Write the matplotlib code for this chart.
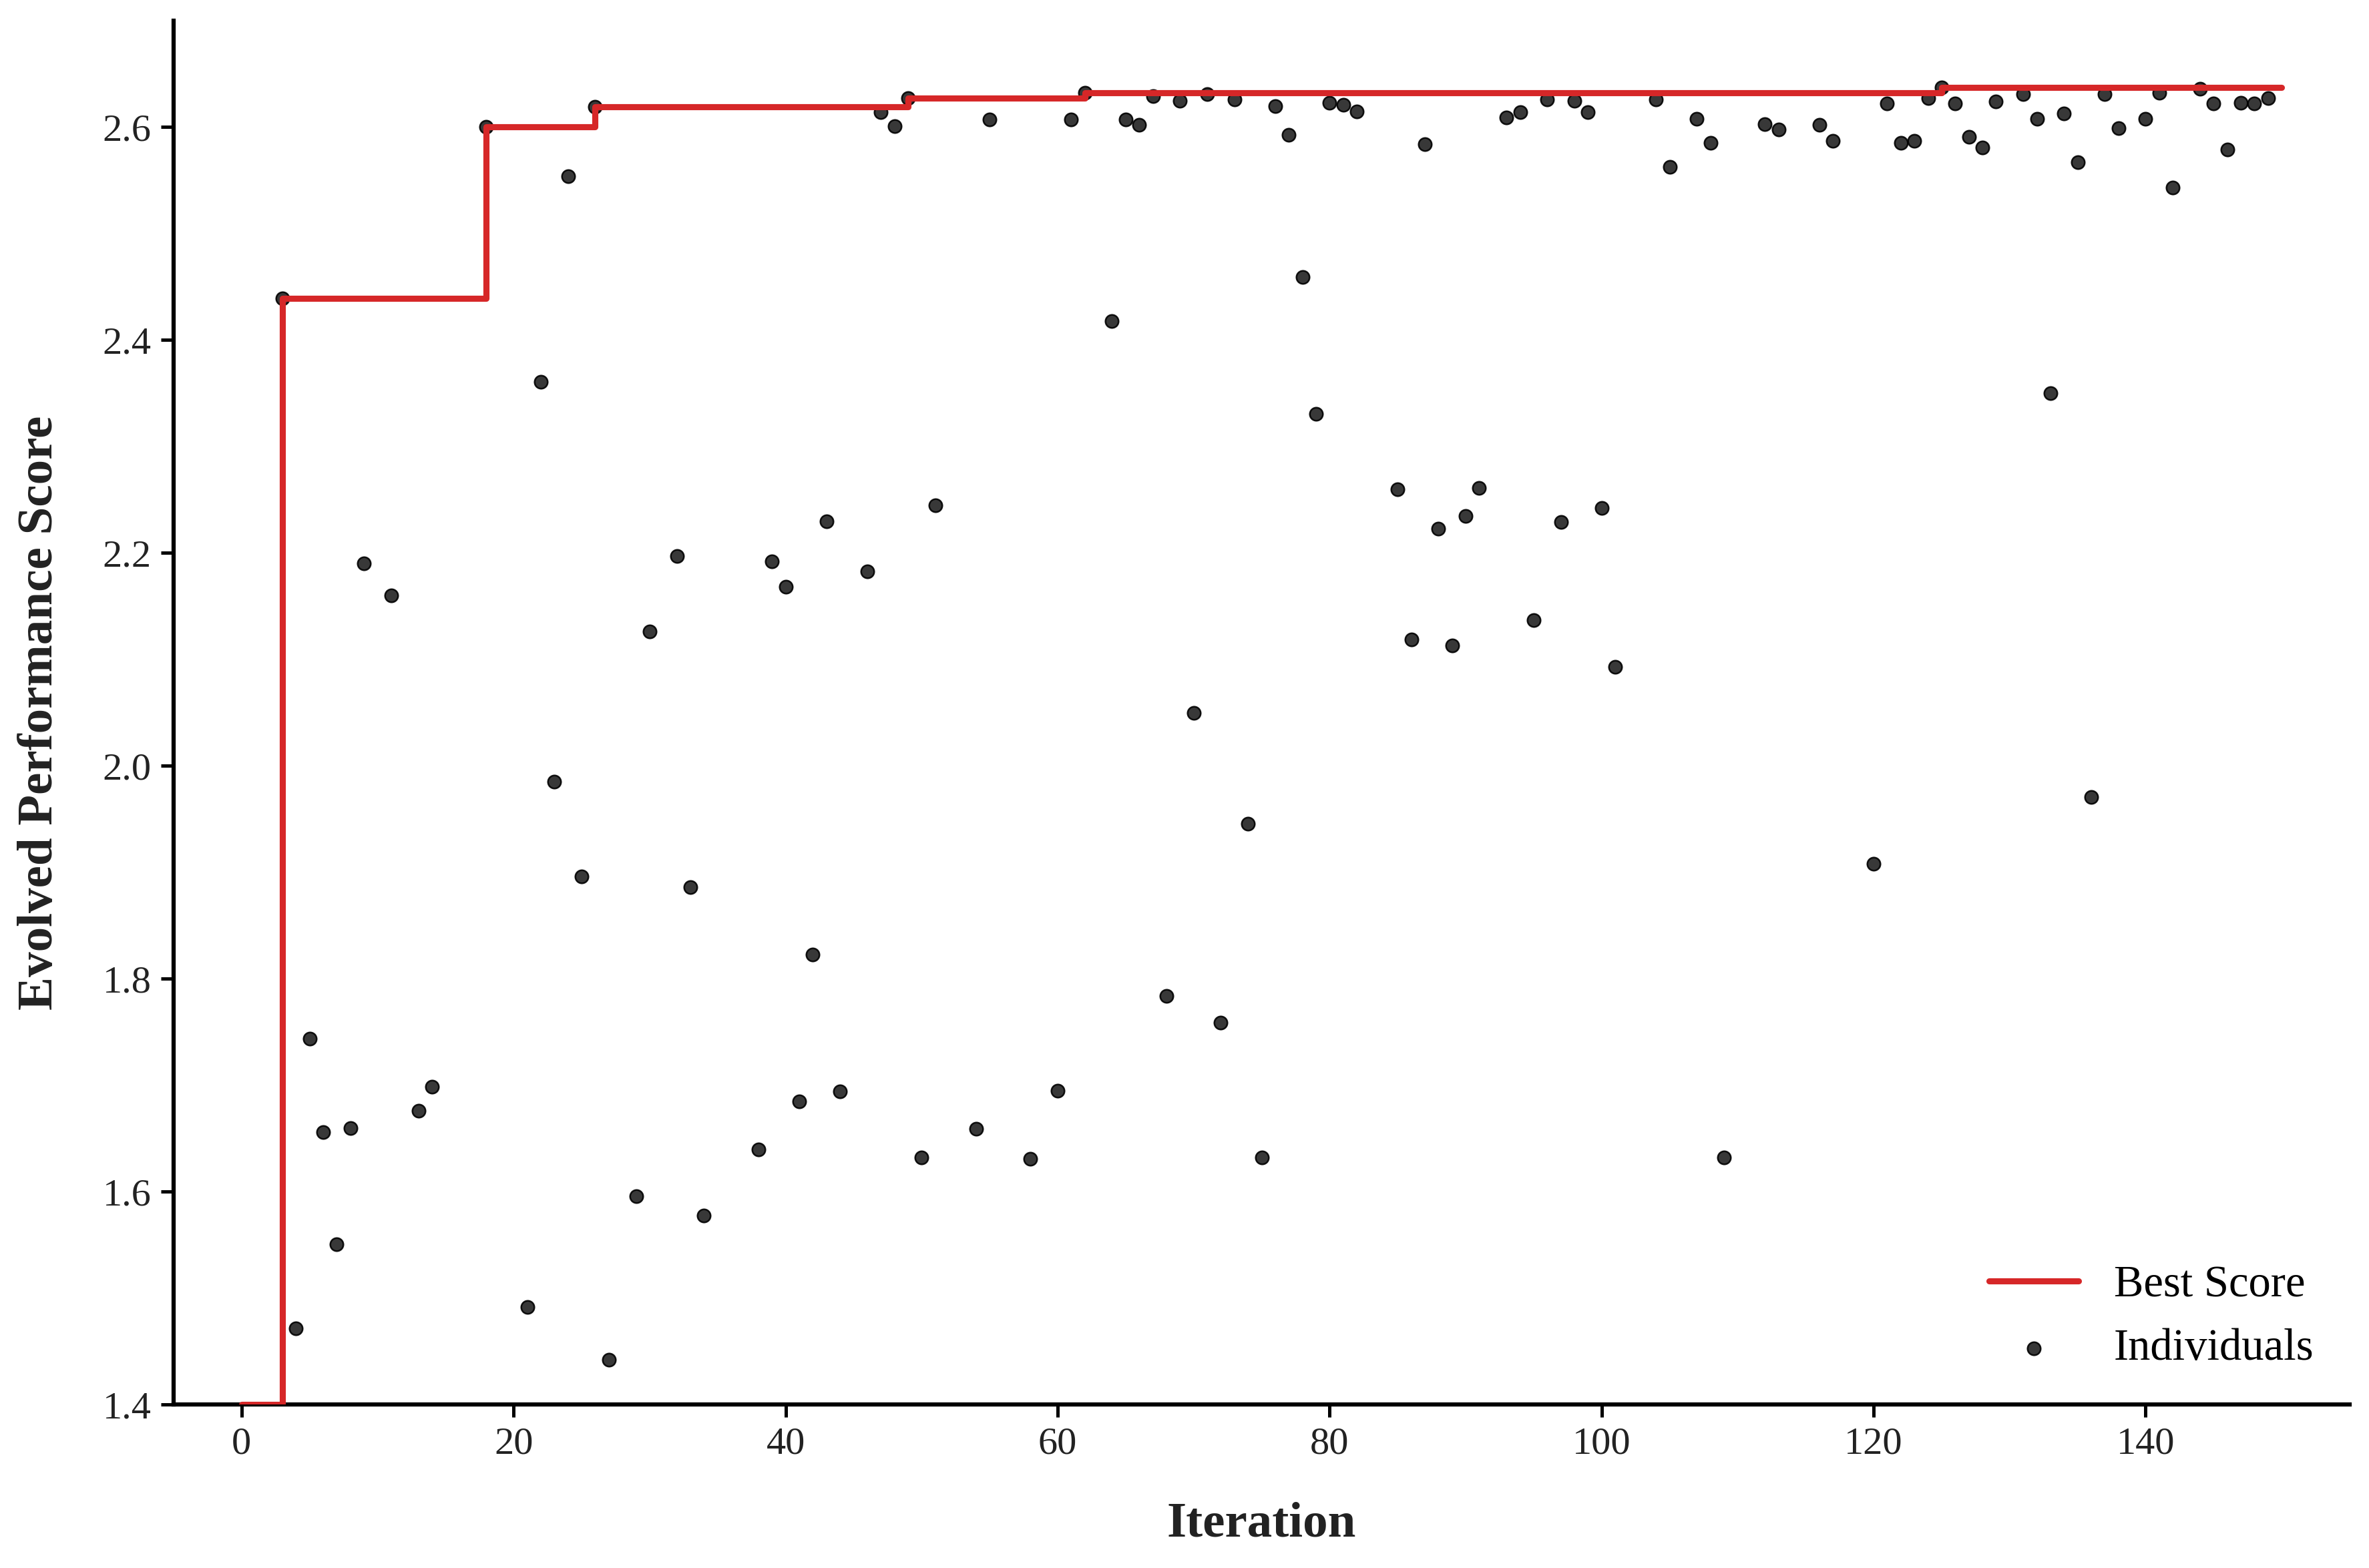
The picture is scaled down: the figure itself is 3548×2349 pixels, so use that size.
import numpy as np
import matplotlib
matplotlib.use('Agg')
from matplotlib import pyplot as plt

plt.rcParams['font.family'] = ['Liberation Serif', 'DejaVu Serif']

# individuals (iteration, score)
iters = [3, 4, 5, 6, 7, 8, 9, 11, 13, 14,
         18, 21, 22, 23, 24, 25, 26, 27, 29, 30,
         32, 33, 34, 38, 39, 40, 41, 42, 43, 44,
         46, 47, 48, 49, 50, 51, 54, 55, 58, 60,
         61, 62, 64, 65, 66, 67, 68, 69, 70, 71,
         72, 73, 74, 75, 76, 77, 78, 79, 80, 81,
         82, 85, 86, 87, 88, 89, 90, 91, 93, 94,
         95, 96, 97, 98, 99, 100, 101, 104, 105, 107,
         108, 109, 112, 113, 116, 117, 120, 121, 122, 123,
         124, 125, 126, 127, 128, 129, 131, 132, 133, 134,
         135, 136, 137, 138, 140, 141, 142, 144, 145, 146,
         147, 148, 149]
scores = [2.439, 1.472, 1.744, 1.656, 1.551, 1.660, 2.190, 2.160, 1.676, 1.699,
          2.600, 1.492, 2.361, 1.985, 2.554, 1.896, 2.619, 1.442, 1.596, 2.126,
          2.197, 1.886, 1.578, 1.640, 2.192, 2.168, 1.685, 1.823, 2.230, 1.694,
          2.183, 2.614, 2.601, 2.627, 1.632, 2.245, 1.659, 2.607, 1.631, 1.695,
          2.607, 2.632, 2.418, 2.607, 2.602, 2.629, 1.784, 2.625, 2.050, 2.631,
          1.759, 2.626, 1.946, 1.632, 2.620, 2.593, 2.459, 2.331, 2.623, 2.621,
          2.615, 2.260, 2.119, 2.584, 2.223, 2.113, 2.235, 2.261, 2.609, 2.614,
          2.137, 2.626, 2.229, 2.625, 2.614, 2.242, 2.093, 2.626, 2.563, 2.608,
          2.585, 1.632, 2.603, 2.598, 2.602, 2.587, 1.908, 2.622, 2.585, 2.587,
          2.627, 2.637, 2.622, 2.591, 2.581, 2.624, 2.631, 2.608, 2.350, 2.613,
          2.567, 1.971, 2.631, 2.599, 2.608, 2.632, 2.543, 2.636, 2.622, 2.579,
          2.623, 2.622, 2.627]

# best-so-far steps
best_iter = [0, 3, 18, 26, 49, 62, 125, 150]
best_val = [1.4, 2.439, 2.600, 2.619, 2.627, 2.632, 2.637, 2.637]

xticks = [0, 20, 40, 60, 80, 100, 120, 140]
yticks = [1.4, 1.6, 1.8, 2.0, 2.2, 2.4, 2.6]

W, H = 3548, 2349
fig = plt.figure(figsize=(W / 300, H / 300), dpi=300)
ax = fig.add_axes([260 / W, (H - 2104.4) / H, (3519 - 260) / W, (2104.4 - 31) / H])

ax.plot(best_iter, best_val, drawstyle='steps-post', color='#d62728',
        lw=2.2, zorder=3, label='Best Score', solid_capstyle='round')
ax.scatter(iters, scores, s=22, c='#222222', edgecolors='black',
           linewidths=0.6, alpha=0.9, zorder=2, label='Individuals')

ax.set_xlim(-5, 155)
ax.set_ylim(1.4, 2.7)
ax.set_xticks(xticks)
ax.set_yticks(yticks)
ax.set_yticklabels(['%.1f' % v for v in yticks])

for s in ['top', 'right']:
    ax.spines[s].set_visible(False)
for s in ['left', 'bottom']:
    ax.spines[s].set_linewidth(1.5)
    ax.spines[s].set_color('black')
ax.tick_params(axis='both', labelsize=14, width=1.2, length=4.5,
               colors='black', labelcolor='#222222')

ax.set_xlabel('Iteration', fontsize=18, fontweight='bold', color='#222222')
ax.set_ylabel('Evolved Performance Score', fontsize=18, fontweight='bold',
              color='#222222')
ax.xaxis.set_label_coords(0.5, -0.070)
ax.yaxis.set_label_coords(-0.051, 0.5)

ax.legend(loc='lower right', frameon=False, fontsize=16, scatterpoints=1,
          handlelength=2.0, borderaxespad=0.4)

fig.savefig('out.png', dpi=300)
